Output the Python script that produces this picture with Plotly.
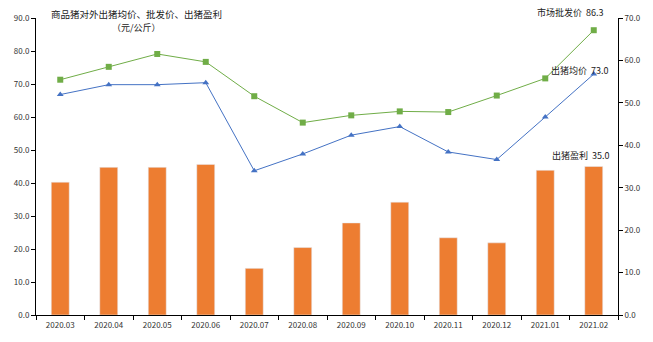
import plotly.graph_objects as go

months = ["2020.03", "2020.04", "2020.05", "2020.06", "2020.07", "2020.08",
          "2020.09", "2020.10", "2020.11", "2020.12", "2021.01", "2021.02"]
wholesale = [71.3, 75.2, 79.1, 76.7, 66.3, 58.3, 60.5, 61.7, 61.5, 66.5, 71.7, 86.3]
avg_price = [66.8, 69.8, 69.8, 70.4, 43.7, 48.8, 54.5, 57.1, 49.4, 47.1, 60.0, 73.0]
profit = [31.3, 34.8, 34.8, 35.5, 11.0, 15.9, 21.7, 26.6, 18.2, 17.0, 34.1, 35.0]

left_ticks = [0, 10, 20, 30, 40, 50, 60, 70, 80, 90]
right_ticks = [0, 10, 20, 30, 40, 50, 60, 70]

FONT = "Noto Sans CJK SC"

xi = list(range(len(months)))
bounds = [i - 0.5 for i in range(len(months) + 1)]

fig = go.Figure()
fig.add_trace(go.Bar(x=xi, y=profit, yaxis="y2", marker_color="#ED7D31",
                     name="出猪盈利"))
fig.add_trace(go.Scatter(x=xi, y=wholesale, mode="lines+markers",
                         line=dict(color="#70AD47", width=1),
                         marker=dict(symbol="square", size=6, color="#70AD47"),
                         name="市场批发价"))
fig.add_trace(go.Scatter(x=xi, y=avg_price, mode="lines+markers",
                         line=dict(color="#4472C4", width=1),
                         marker=dict(symbol="triangle-up", size=6, color="#4472C4"),
                         name="出猪均价"))

axis_font = dict(family=FONT, size=8, color="#333")
fig.update_layout(
    width=653, height=342,
    margin=dict(l=36, r=32, t=18, b=24),
    plot_bgcolor="white", paper_bgcolor="white",
    showlegend=False,
    bargap=0.63,
    xaxis=dict(range=[-0.5, len(months) - 0.5], tickvals=xi, ticktext=months,
               tickangle=0, ticklabelstandoff=2,
               showline=True, linecolor="black", linewidth=1,
               ticks="", tickfont=axis_font, showgrid=False, zeroline=False,
               minor=dict(tickvals=bounds, ticks="outside", ticklen=4,
                          tickcolor="black", showgrid=False)),
    yaxis=dict(range=[0, 90], tickvals=left_ticks, tickformat=".1f",
               showline=True, linecolor="black", linewidth=1, ticks="outside",
               ticklen=4, tickcolor="black", tickfont=axis_font, showgrid=False,
               zeroline=False),
    yaxis2=dict(range=[0, 70], tickvals=right_ticks, tickformat=".1f",
                overlaying="y", side="right",
                showline=True, linecolor="black", linewidth=1, ticks="outside",
                ticklen=4, tickcolor="black", tickfont=axis_font, showgrid=False,
                zeroline=False),
)

ann_font = dict(family=FONT, size=9, color="#222")
last = len(months) - 1
fig.add_annotation(text="商品猪对外出猪均价、批发价、出猪盈利",
                   xref="paper", yref="paper", x=0.173, y=1.012,
                   showarrow=False, font=dict(family=FONT, size=9.5, color="#222"),
                   align="center", xanchor="center", yanchor="middle")
fig.add_annotation(text="（元/公斤）",
                   xref="paper", yref="paper", x=0.173, y=0.968,
                   showarrow=False, font=dict(family=FONT, size=9, color="#222"),
                   align="center", xanchor="center", yanchor="middle")
fig.add_annotation(text=f"市场批发价  {wholesale[-1]:.1f}", x=last, y=wholesale[-1],
                   xref="x", yref="y", showarrow=False, font=ann_font,
                   xanchor="left", yanchor="middle", xshift=-59, yshift=18)
fig.add_annotation(text=f"出猪均价  {avg_price[-1]:.1f}", x=last, y=avg_price[-1],
                   xref="x", yref="y", showarrow=False, font=ann_font,
                   xanchor="left", yanchor="middle", xshift=-45, yshift=4)
fig.add_annotation(text=f"出猪盈利  {profit[-1]:.1f}", x=last, y=profit[-1],
                   xref="x", yref="y2", showarrow=False, font=ann_font,
                   xanchor="left", yanchor="middle", xshift=-44, yshift=11)

fig.write_html("out.html")
